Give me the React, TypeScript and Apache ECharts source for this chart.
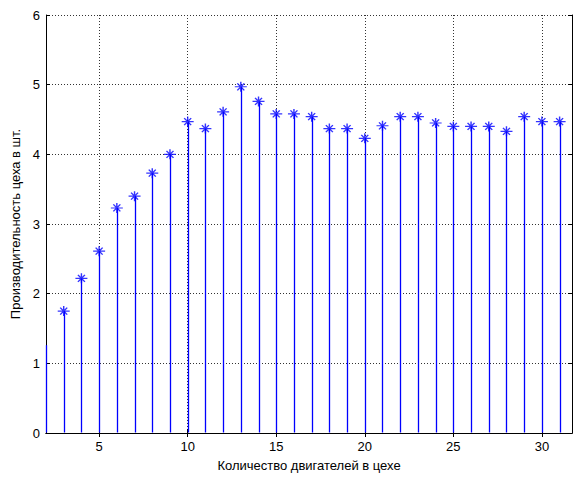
import React, { useEffect, useRef } from "react";
import * as echarts from "echarts";

const engines = [2, 3, 4, 5, 6, 7, 8, 9, 10, 11, 12, 13, 14, 15, 16, 17, 18, 19, 20, 21, 22, 23, 24, 25, 26, 27, 28, 29, 30, 31];
const output = [1.26, 1.75, 2.22, 2.61, 3.23, 3.4, 3.73, 4.0, 4.47, 4.37, 4.61, 4.97, 4.76, 4.58, 4.58, 4.54, 4.37, 4.37, 4.23, 4.41, 4.54, 4.54, 4.45, 4.4, 4.4, 4.4, 4.33, 4.54, 4.47, 4.47];
const xTicks = [5, 10, 15, 20, 25, 30];
const yTicks = [0, 1, 2, 3, 4, 5, 6];
const xTitle = "Количество двигателей в цехе";
const yTitle = "Производительность цеха в шт.";

const STAR = "path://M0,-10L0,10M-12,0L12,0M-7,-7L7,7M-7,7L7,-7";

export default function App() {
  const ref = useRef<HTMLDivElement>(null);
  useEffect(() => {
    if (!ref.current) return;
    const chart = echarts.init(ref.current, null, { renderer: "svg" });
    const pts = engines.map((x, i) => [x, output[i]]);
    const font = "Liberation Sans, Arial, sans-serif";
    const gridLine = { show: true, lineStyle: { color: "#333", type: [1, 2] as any, width: 1 } };
    chart.setOption({
      animation: false,
      backgroundColor: "#fff",
      grid: { left: 46, right: 5, top: 15, bottom: 44, containLabel: false, outerBoundsMode: "none" },
      xAxis: [
        {
          type: "value", min: 2, max: 31.7,
          name: xTitle, nameLocation: "middle", nameGap: 26,
          nameTextStyle: { fontFamily: font, fontSize: 13, color: "#000" },
          axisLine: { show: true, onZero: false, lineStyle: { color: "#000", width: 1 } },
          axisTick: { show: true, inside: true, length: 4, customValues: xTicks, lineStyle: { color: "#000" } },
          axisLabel: { fontFamily: font, fontSize: 13, color: "#000", margin: 7, customValues: xTicks },
          splitLine: gridLine,
        },
        {
          type: "value", min: 2, max: 31.7, position: "top",
          axisLine: { show: true, lineStyle: { color: "#000", width: 1 } },
          axisTick: { show: true, inside: true, length: 4, customValues: xTicks, lineStyle: { color: "#000" } },
          axisLabel: { show: false, customValues: xTicks },
          splitLine: { show: false },
        },
      ],
      yAxis: [
        {
          type: "value", min: 0, max: 6, interval: 1,
          name: yTitle, nameLocation: "middle", nameGap: 24,
          nameTextStyle: { fontFamily: font, fontSize: 13, color: "#000" },
          axisLine: { show: true, lineStyle: { color: "#000", width: 1 } },
          axisTick: { show: true, inside: true, length: 4, lineStyle: { color: "#000" } },
          axisLabel: {
            fontFamily: font, fontSize: 13, color: "#000", margin: 6,
            formatter: (v: number) => (yTicks.includes(v) ? String(v) : ""),
          },
          splitLine: gridLine,
        },
        {
          type: "value", min: 0, max: 6, interval: 1, position: "right",
          axisLine: { show: true, lineStyle: { color: "#000", width: 1 } },
          axisTick: { show: true, inside: true, length: 4, lineStyle: { color: "#000" } },
          axisLabel: { show: false },
          splitLine: { show: false },
        },
      ],
      series: [
        {
          type: "custom",
          data: pts,
          clip: false,
          renderItem: (params: any, api: any) => {
            const p0 = api.coord([api.value(0), 0]);
            const p1 = api.coord([api.value(0), api.value(1)]);
            return {
              type: "line",
              shape: { x1: Math.round(p0[0]) + 0.5, y1: p0[1] - 0.5, x2: Math.round(p1[0]) + 0.5, y2: p1[1] },
              style: { stroke: "#0000ff", lineWidth: 1.3 },
            };
          },
          z: 10,
        },
        {
          type: "scatter",
          data: pts.filter((p) => p[0] > 2),
          symbol: STAR,
          symbolSize: [12, 10],
          itemStyle: { color: "transparent", borderColor: "#0000ff", borderWidth: 1.3 },
          z: 11,
        },
      ],
    });
    return () => chart.dispose();
  }, []);
  return <div ref={ref} style={{ width: 577, height: 477, position: "absolute", left: 0, top: 0 }} />;
}
